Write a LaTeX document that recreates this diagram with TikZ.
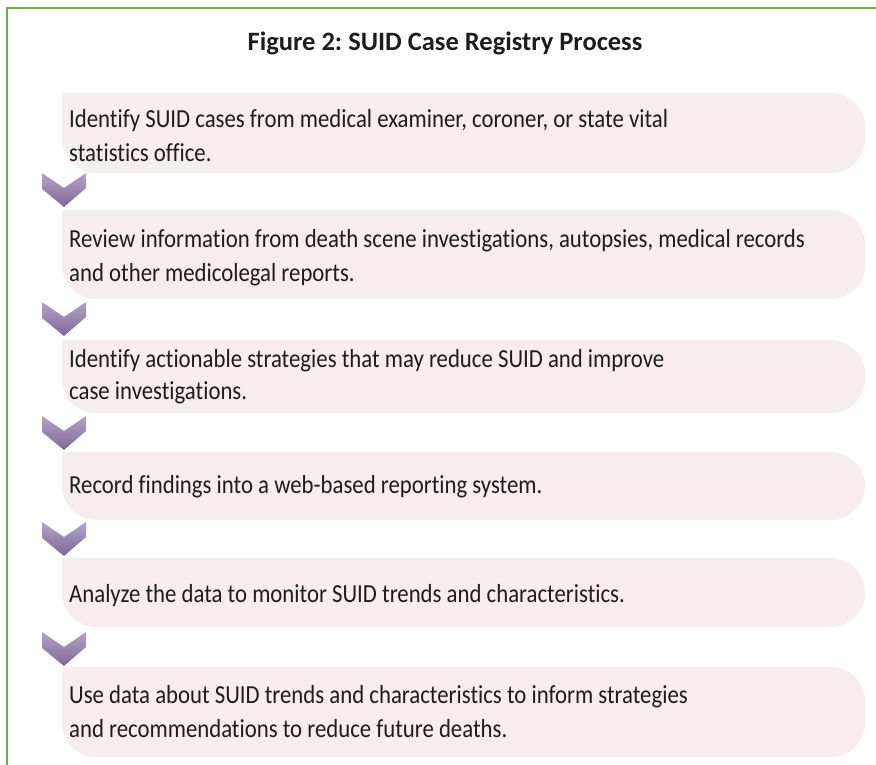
\documentclass[tikz,border=0pt]{standalone}
\usepackage{fontspec}
\setmainfont{Carlito}[Ligatures=NoCommon]
\newfontfamily\bodyfont[FakeStretch=0.876,Ligatures=NoCommon]{Carlito}
\frenchspacing
\definecolor{frame}{RGB}{112,173,71}
\definecolor{boxfill}{RGB}{247,237,237}
\definecolor{chevtop}{RGB}{180,164,200}
\definecolor{chevbot}{RGB}{124,104,150}
\definecolor{txt}{RGB}{30,28,30}
\tikzset{
  x=1pt,y=-1pt,
  boxshape/.style={fill=boxfill},
  line/.style={anchor=base west,inner sep=0pt,font=\bodyfont\fontsize{26}{30}\selectfont,text=txt},
  chev/.style={top color=chevtop,bottom color=chevbot,draw=none},
}
\newcommand{\stepbox}[3]{%
  \fill[boxshape] (62,#2) [rounded corners=34pt] -- (865,#2) -- (865,#3) -- (62,#3) [sharp corners] -- cycle;
  \coordinate (#1) at (62,#2);}
\newcommand{\chevron}[2]{%
  \path[chev] (42,#2) -- (64,#2+15) -- (86,#2) -- (86,#2+15) -- (64,#2+34) -- (42,#2+16) -- cycle;
  \coordinate (#1) at (64,#2);}
\begin{document}
\frenchspacing
\begin{tikzpicture}
\useasboundingbox (0,0) rectangle (876,765);
\draw[frame,line width=2pt] (7,765) coordinate (fb) -- (7,8) coordinate (fc) -- (876,8) coordinate (fr);
\node[anchor=base,inner sep=0pt,font=\bfseries\fontsize{26.5}{30}\selectfont,text=txt] (title) at (445,51) {Figure 2: SUID Case Registry Process};
\stepbox{b1}{93}{173}
\stepbox{b2}{210}{299}
\stepbox{b3}{340}{413}
\stepbox{b4}{452}{520}
\stepbox{b5}{558}{627}
\stepbox{b6}{667}{757}
\chevron{c1}{173}
\chevron{c2}{302}
\chevron{c3}{416}
\chevron{c4}{522}
\chevron{c5}{632}
\node[line] (t1a) at (69,128) {Identify SUID cases from medical examiner, coroner, or state vital};
\node[line] (t1b) at (69,162) {statistics office.};
\node[line] (t2a) at (69,247) {Review information from death scene investigations, autopsies, medical records};
\node[line] (t2b) at (69,281) {and other medicolegal reports.};
\node[line] (t3a) at (69,367) {Identify actionable strategies that may reduce SUID and improve};
\node[line] (t3b) at (69,399) {case investigations.};
\node[line] (t4a) at (69,493) {Record findings into a web-based reporting system.};
\node[line] (t5a) at (69,602) {Analyze the data to monitor SUID trends and characteristics.};
\node[line] (t6a) at (69,703) {Use data about SUID trends and characteristics to inform strategies};
\node[line] (t6b) at (69,737) {and recommendations to reduce future deaths.};
\end{tikzpicture}
\end{document}
